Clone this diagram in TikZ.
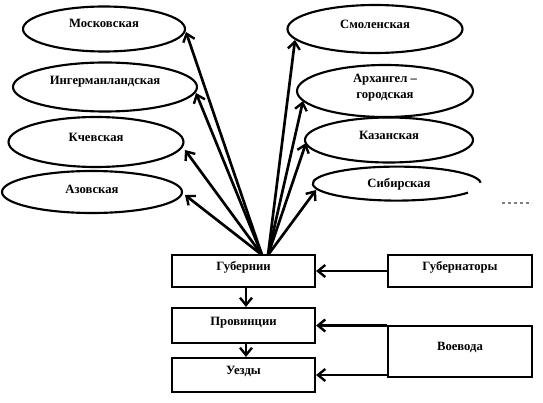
\documentclass[tikz,border=0pt]{standalone}
\usepackage{fontspec}
\setmainfont{Liberation Serif}
\usetikzlibrary{shapes.geometric,arrows.meta}
\tikzset{
  ell/.style={ellipse,draw,line width=1.6pt,inner sep=0pt},
  box/.style={rectangle,draw,line width=1.6pt,inner sep=0pt},
  lbl/.style={font=\bfseries\fontsize{9.5}{11}\selectfont,align=center,inner sep=0pt},
  arr/.style={line width=2pt,-{Straight Barb[length=5.5pt,width=9pt,line width=1.8pt]}}
}
\begin{document}
\begin{tikzpicture}[x=0.75pt,y=-0.75pt]
\useasboundingbox (0,0) rectangle (543,403);
% left ellipses
\node[ell,minimum width=121.5pt,minimum height=33.75pt] (mosk) at (104,29) {};
\node[lbl] (tmosk) at (104,23) {Московская};
\node[ell,minimum width=138pt,minimum height=36.75pt] (ing) at (105,87) {};
\node[lbl] (ting) at (105,82) {Ингерманландская};
\node[ell,minimum width=131.25pt,minimum height=37.5pt] (kiev) at (96,142) {};
\node[lbl] (tkiev) at (96,137) {Кчевская};
\node[ell,minimum width=135pt,minimum height=31.5pt] (azov) at (92,192) {};
\node[lbl] (tazov) at (92,189) {Азовская};
% right ellipses
\node[ell,minimum width=131.25pt,minimum height=36pt] (smol) at (375,29) {};
\node[lbl] (tsmol) at (375,24) {Смоленская};
\node[ell,minimum width=132pt,minimum height=39pt] (arh) at (385,91) {};
\node[lbl] (tarh) at (385,88) {Архангел –\\[1pt]городская};
\node[ell,minimum width=126pt,minimum height=33.75pt] (kaz) at (389,140) {};
\node[lbl] (tkaz) at (389,135) {Казанская};
\node[ellipse,inner sep=0pt,minimum width=126pt,minimum height=25.5pt] (sib) at (399,187) {};
\draw[line width=1.6pt] (sib.3) arc[start angle=3,end angle=328,x radius=63pt,y radius=12.75pt];
\node[lbl] (tsib) at (399,184) {Сибирская};
\coordinate (d1) at (502,203);
\coordinate (d2) at (532,203);
\draw[line width=0.8pt,dash pattern=on 2.5pt off 2pt,gray] (d1) -- (d2);
% boxes
\node[box,minimum width=107.25pt,minimum height=24pt] (gub) at (243.5,271) {};
\node[lbl] (tgub) at (243.5,267) {Губернии};
\node[box,minimum width=108pt,minimum height=24pt] (gubr) at (460,271) {};
\node[lbl] (tgubr) at (460,267) {Губернаторы};
\node[box,minimum width=107.25pt,minimum height=26.25pt] (prov) at (243.5,325.5) {};
\node[lbl] (tprov) at (243.5,323) {Провинции};
\node[box,minimum width=107.25pt,minimum height=25.5pt] (uezd) at (243.5,375) {};
\node[lbl] (tuezd) at (243.5,371) {Уезды};
\node[box,minimum width=108pt,minimum height=38.25pt] (voev) at (460,351.5) {};
\node[lbl] (tvoev) at (460,347) {Воевода};
% fan origins and tips
\coordinate (oL) at (262,255);
\coordinate (oR) at (268,255);
\coordinate (pmosk) at (186,32);
\coordinate (ping) at (196,93);
\coordinate (pkiev) at (185,150);
\coordinate (pazov) at (185,195);
\coordinate (psmol) at (295,40);
\coordinate (parh) at (303,101);
\coordinate (pkaz) at (306,143);
\coordinate (psib) at (316,190);
\draw[arr] (oL) -- (pmosk);
\draw[arr] (oL) -- (ping);
\draw[arr] (oL) -- (pkiev);
\draw[arr] (oL) -- (pazov);
\draw[arr] (oR) -- (psmol);
\draw[arr] (oR) -- (parh);
\draw[arr] (oR) -- (pkaz);
\draw[arr] (oR) -- (psib);
% box arrows
\draw[arr] (gubr.west) -- (gub.east);
\draw[arr] (voev.west |- prov.east) -- (prov.east);
\draw[arr] (voev.west |- uezd.east) -- (uezd.east);
\draw[arr] (gub.south -| 246,0) -- (prov.north -| 246,0);
\draw[arr] (prov.south -| 246,0) -- (uezd.north -| 246,0);
\end{tikzpicture}
\end{document}
